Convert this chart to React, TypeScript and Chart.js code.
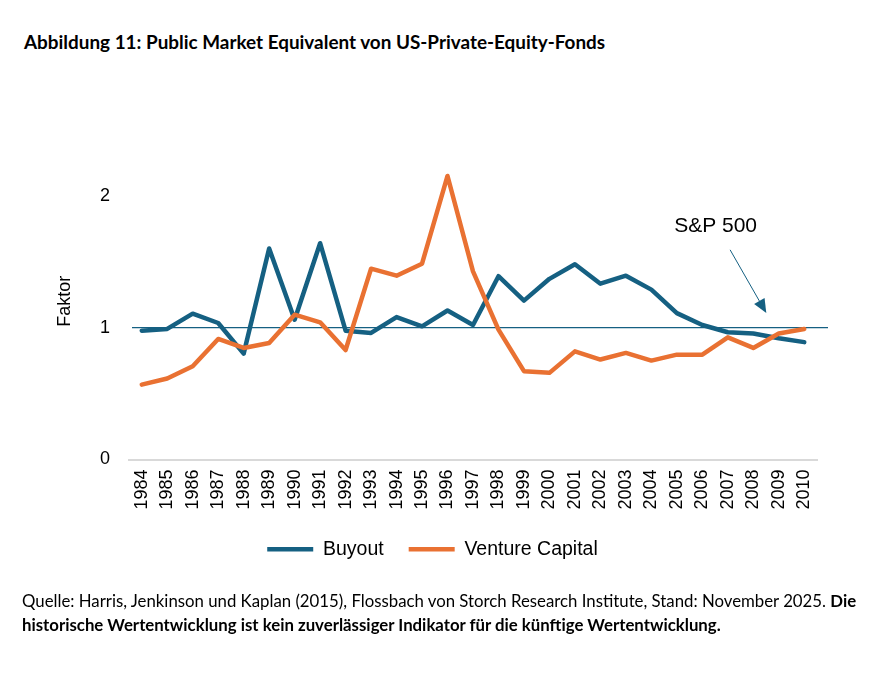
import React, { useEffect, useRef } from "react";
import { Chart, registerables } from "chart.js";

Chart.register(...registerables);

const YEARS = [
  "1984", "1985", "1986", "1987", "1988", "1989", "1990", "1991", "1992",
  "1993", "1994", "1995", "1996", "1997", "1998", "1999", "2000", "2001",
  "2002", "2003", "2004", "2005", "2006", "2007", "2008", "2009", "2010",
];

const BUYOUT = [
  0.977, 0.99, 1.106, 1.035, 0.803, 1.6, 1.06, 1.64, 0.977, 0.96, 1.08, 1.01,
  1.13, 1.02, 1.39, 1.205, 1.37, 1.48, 1.333, 1.394, 1.288, 1.11, 1.02, 0.965,
  0.955, 0.92, 0.89,
];

const VENTURE_CAPITAL = [
  0.568, 0.614, 0.707, 0.914, 0.846, 0.884, 1.098, 1.04, 0.83, 1.447, 1.394,
  1.485, 2.15, 1.427, 0.985, 0.67, 0.657, 0.82, 0.758, 0.808, 0.75, 0.795,
  0.795, 0.926, 0.846, 0.955, 0.99,
];

const Y_TICKS = [0, 1, 2];
const REFERENCE_VALUE = 1;
const REFERENCE_LABEL = "S&P 500";
// [category index, value]
const LABEL_AT = [22.52, 1.77];
const ARROW_FROM = [23.09, 1.59];
const ARROW_TO = [24.51, 1.11];

const TEAL = "#156082";
const ORANGE = "#E97132";
const FONT = "'Liberation Sans', Arial, sans-serif";

const referencePlugin = {
  id: "referenceLine",
  beforeDatasetsDraw(chart: any) {
    const { ctx, chartArea, scales } = chart;
    const y = scales.y.getPixelForValue(REFERENCE_VALUE);
    ctx.save();
    ctx.strokeStyle = TEAL;
    ctx.lineWidth = 1.2;
    ctx.beginPath();
    ctx.moveTo(chartArea.left + 3, y);
    ctx.lineTo(chartArea.right + 11, y);
    ctx.stroke();
    ctx.restore();
  },
  afterDatasetsDraw(chart: any) {
    const { ctx, scales } = chart;
    const x = scales.x;
    const y = scales.y;
    ctx.save();
    ctx.fillStyle = "#000";
    ctx.font = `21px ${FONT}`;
    ctx.textAlign = "center";
    ctx.textBaseline = "middle";
    ctx.fillText(
      REFERENCE_LABEL,
      x.getPixelForValue(LABEL_AT[0]),
      y.getPixelForValue(LABEL_AT[1])
    );
    const x0 = x.getPixelForValue(ARROW_FROM[0]);
    const y0 = y.getPixelForValue(ARROW_FROM[1]);
    const x1 = x.getPixelForValue(ARROW_TO[0]);
    const y1 = y.getPixelForValue(ARROW_TO[1]);
    const ang = Math.atan2(y1 - y0, x1 - x0);
    const headLen = 14;
    const headHalf = 6;
    const bx = x1 - headLen * Math.cos(ang);
    const by = y1 - headLen * Math.sin(ang);
    ctx.strokeStyle = TEAL;
    ctx.fillStyle = TEAL;
    ctx.lineWidth = 1;
    ctx.beginPath();
    ctx.moveTo(x0, y0);
    ctx.lineTo(bx, by);
    ctx.stroke();
    ctx.beginPath();
    ctx.moveTo(x1, y1);
    ctx.lineTo(bx + headHalf * Math.sin(ang), by - headHalf * Math.cos(ang));
    ctx.lineTo(bx - headHalf * Math.sin(ang), by + headHalf * Math.cos(ang));
    ctx.closePath();
    ctx.fill();
    ctx.restore();
  },
};

export default function App() {
  const canvasRef = useRef<HTMLCanvasElement | null>(null);

  useEffect(() => {
    document.body.style.margin = "0";
    const canvas = canvasRef.current;
    if (!canvas) return;
    const chart = new Chart(canvas, {
      type: "line",
      data: {
        labels: YEARS,
        datasets: [
          {
            label: "Buyout",
            data: BUYOUT,
            borderColor: TEAL,
            backgroundColor: TEAL,
            borderWidth: 4.5,
            pointRadius: 0,
            tension: 0,
            borderCapStyle: "round",
            borderJoinStyle: "round",
            order: 2,
          },
          {
            label: "Venture Capital",
            data: VENTURE_CAPITAL,
            borderColor: ORANGE,
            backgroundColor: ORANGE,
            borderWidth: 4.5,
            pointRadius: 0,
            tension: 0,
            borderCapStyle: "round",
            borderJoinStyle: "round",
            order: 1,
          },
        ],
      },
      options: {
        responsive: false,
        animation: false,
        devicePixelRatio: 1,
        layout: { padding: { top: 143, right: 64, left: 48, bottom: 120 } },
        plugins: {
          tooltip: { enabled: false },
          legend: {
            position: "bottom",
            labels: {
              usePointStyle: true,
              pointStyle: "line",
              pointStyleWidth: 46,
              padding: 25,
              color: "#000",
              font: { family: FONT, size: 19.5 },
              sort: (a: any, b: any) => a.datasetIndex - b.datasetIndex,
            },
          },
        },
        scales: {
          x: {
            offset: true,
            grid: { display: false, drawTicks: false },
            border: { display: true, color: "#d9d9d9", width: 2 },
            ticks: {
              minRotation: 90,
              maxRotation: 90,
              autoSkip: false,
              padding: 10,
              color: "#000",
              font: { family: FONT, size: 18 },
            },
            afterFit(scale: any) {
              scale.height = 55;
            },
          },
          y: {
            min: 0,
            max: 2.4,
            afterBuildTicks(scale: any) {
              scale.ticks = Y_TICKS.map((v) => ({ value: v }));
            },
            grid: { display: false, drawTicks: false },
            border: { display: false },
            ticks: {
              padding: 19,
              color: "#000",
              font: { family: FONT, size: 18 },
            },
            title: {
              display: true,
              text: "Faktor",
              color: "#000",
              font: { family: FONT, size: 18 },
              padding: { top: 6, bottom: 0 },
            },
            afterFit(scale: any) {
              scale.width = 81;
            },
          },
        },
      },
      plugins: [referencePlugin],
    });
    return () => chart.destroy();
  }, []);

  return (
    <div
      style={{
        position: "absolute",
        left: 0,
        top: 0,
        width: 881,
        height: 689,
        background: "#fff",
        overflow: "hidden",
      }}
    >
      <div
        style={{
          position: "absolute",
          left: 24,
          top: 32,
          lineHeight: "20px",
          fontFamily: "Lato, 'Open Sans', sans-serif",
          fontWeight: 700,
          fontSize: 18.9,
          color: "#000",
          whiteSpace: "nowrap",
        }}
      >
        Abbildung 11: Public Market Equivalent von US-Private-Equity-Fonds
      </div>
      <canvas
        ref={canvasRef}
        width={881}
        height={689}
        style={{ position: "absolute", left: 0, top: 0, width: 881, height: 689 }}
      />
      <div
        style={{
          position: "absolute",
          left: 22,
          top: 589,
          lineHeight: "24px",
          fontFamily: "Lato, 'Open Sans', sans-serif",
          fontSize: 16.8,
          color: "#000",
          whiteSpace: "nowrap",
        }}
      >
        <div>
          Quelle: Harris, Jenkinson und Kaplan (2015), Flossbach von Storch
          Research Institute, Stand: November 2025. <b>Die</b>
        </div>
        <div>
          <b>
            historische Wertentwicklung ist kein zuverlässiger Indikator für die
            künftige Wertentwicklung.
          </b>
        </div>
      </div>
    </div>
  );
}
